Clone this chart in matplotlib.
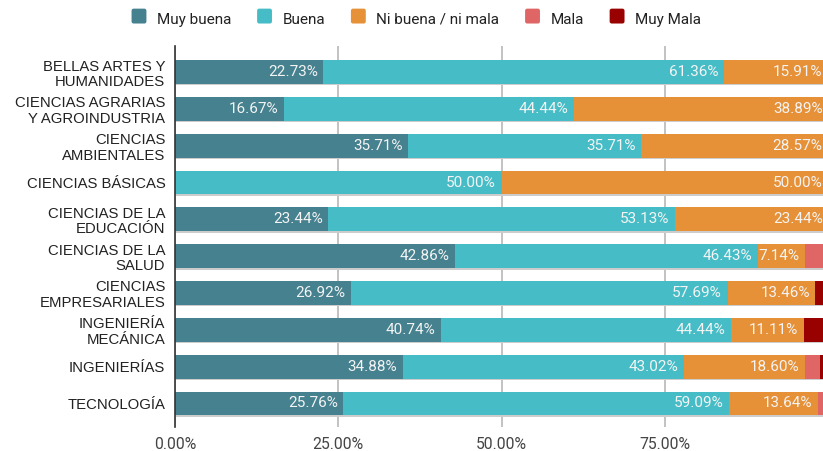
import matplotlib
matplotlib.use("Agg")
import matplotlib.pyplot as plt
from matplotlib.patches import FancyBboxPatch, Patch
from matplotlib.legend_handler import HandlerPatch
import numpy as np

categories = [
    "BELLAS ARTES Y\nHUMANIDADES",
    "CIENCIAS AGRARIAS\nY AGROINDUSTRIA",
    "CIENCIAS\nAMBIENTALES",
    "CIENCIAS BÁSICAS",
    "CIENCIAS DE LA\nEDUCACIÓN",
    "CIENCIAS DE LA\nSALUD",
    "CIENCIAS\nEMPRESARIALES",
    "INGENIERÍA\nMECÁNICA",
    "INGENIERÍAS",
    "TECNOLOGÍA",
]

series_names = ["Muy buena", "Buena", "Ni buena / ni mala", "Mala", "Muy Mala"]

muy_buena = [22.73, 16.67, 35.71, 0.00, 23.44, 42.86, 26.92, 40.74, 34.88, 25.76]
buena = [61.36, 44.44, 35.71, 50.00, 53.13, 46.43, 57.69, 44.44, 43.02, 59.09]
ni_buena_ni_mala = [15.91, 38.89, 28.57, 50.00, 23.44, 7.14, 13.46, 11.11, 18.60, 13.64]
mala = [0.00, 0.00, 0.00, 0.00, 0.00, 3.57, 0.00, 0.00, 2.33, 1.52]
muy_mala = [0.00, 0.00, 0.00, 0.00, 0.00, 0.00, 1.92, 3.70, 1.16, 0.00]

x_ticks = [0, 25, 50, 75]
x_tick_labels = ["0.00%", "25.00%", "50.00%", "75.00%"]

colors = ["#45818e", "#46bdc6", "#e69138", "#e06666", "#990000"]

W, H = 823, 451
fig = plt.figure(figsize=(W / 100, H / 100), dpi=100)
ax = fig.add_axes([175 / W, 1 - 427 / H, (828 - 175) / W, (427 - 46) / H])

series = [muy_buena, buena, ni_buena_ni_mala, mala, muy_mala]
y = np.arange(len(categories))
bar_h = 0.65
row_px = 36.8

# soft shadow under each bar
totals = np.sum(series, axis=0)
ax.barh(y + 1.4 / row_px, totals, height=bar_h, color="#cccccc",
        edgecolor="none", zorder=2)

left = np.zeros(len(categories))
for name, vals, col in zip(series_names, series, colors):
    vals = np.array(vals)
    ax.barh(y, vals, left=left, height=bar_h, color=col, edgecolor="none",
            label=name, zorder=3)
    for yi, (l, v) in enumerate(zip(left, vals)):
        if v >= 5:
            ax.annotate(f"{v:.2f}%", xy=(l + v, yi), xytext=(-4, 0),
                        textcoords="offset points", ha="right", va="center",
                        color="#f4f4f4", fontsize=11, family="Roboto",
                        zorder=4)
    left += vals

ax.set_xlim(0, 100)
ax.set_ylim(9 + 23.5 / row_px, -26 / row_px)
ax.set_yticks(y)
ax.set_yticklabels(categories, family="Liberation Sans", fontsize=10.7,
                   color="#222222", linespacing=1.15)
ax.set_xticks(x_ticks)
ax.set_xticklabels(x_tick_labels, family="Roboto", fontsize=11.3,
                   color="#444444")
ax.tick_params(axis="both", length=0)
ax.tick_params(axis="y", pad=7)
ax.tick_params(axis="x", pad=7)

ax.grid(axis="x", color="#b7b7b7", linewidth=1.2, zorder=1)
ax.set_axisbelow(True)
for s in ["top", "right", "bottom"]:
    ax.spines[s].set_visible(False)
ax.spines["left"].set_color("#333333")
ax.spines["left"].set_linewidth(1.2)
ax.spines["left"].set_zorder(5)


class RoundHandler(HandlerPatch):
    def create_artists(self, legend, orig_handle, xdescent, ydescent,
                       width, height, fontsize, trans):
        s = min(width, height) * 1.05
        p = FancyBboxPatch((xdescent + (width - s) / 2, ydescent + (height - s) / 2 - 1),
                           s, s, boxstyle="round,pad=0,rounding_size=1.5",
                           facecolor=orig_handle.get_facecolor(),
                           edgecolor="none", transform=trans)
        return [p]


handles = [Patch(facecolor=c) for c in colors]
leg = fig.legend(handles, series_names, loc="center", ncol=5,
                 bbox_to_anchor=(416 / W, 1 - 19 / H), frameon=False,
                 prop={"family": "Roboto", "size": 11},
                 handler_map={Patch: RoundHandler()},
                 handlelength=1.05, handleheight=1.05, handletextpad=0.65,
                 columnspacing=1.65)
for t in leg.get_texts():
    t.set_color("#222222")

fig.savefig("out.png", dpi=100)
